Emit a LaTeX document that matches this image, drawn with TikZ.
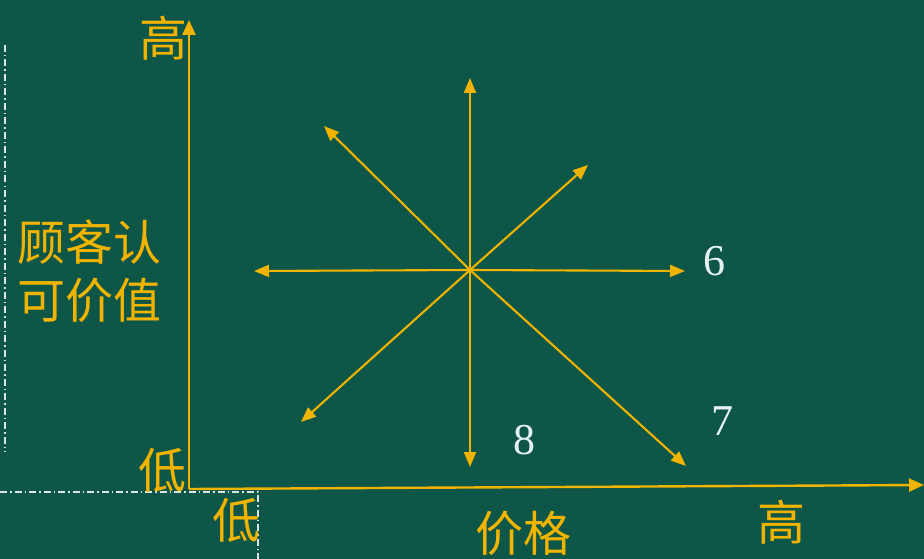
\documentclass[tikz,border=0pt]{standalone}
\usepackage{fontspec}
\newfontfamily\cjk{Noto Sans CJK SC}
\setmainfont{Liberation Serif}
\usetikzlibrary{arrows.meta}
\definecolor{bg}{HTML}{0E5648}
\definecolor{gold}{HTML}{F0B400}
\definecolor{numc}{HTML}{E4F2F2}
\tikzset{
  ax/.style={draw=gold,line width=2.4pt,-{Triangle[length=15pt,width=13pt]}},
  arr/.style={draw=gold,line width=2.1pt,-{Triangle[length=15pt,width=12pt]}},
  guide/.style={draw=white!85!bg,line width=1.5pt,dash pattern=on 7pt off 3pt on 1.5pt off 3pt},
  zh/.style={text=gold,font=\cjk\fontsize{48}{58}\selectfont,inner sep=0pt},
  num/.style={text=numc,font=\fontsize{44}{50}\selectfont,inner sep=0pt}
}
\begin{document}
\begin{tikzpicture}[x=1pt,y=-1pt]
\fill[bg] (0,0) rectangle (924,559);
\useasboundingbox (0,0) rectangle (924,559);
% guides
\coordinate (g1) at (5,45);
\coordinate (g2) at (5,452);
\coordinate (g3) at (0,492);
\coordinate (g4) at (258,492);
\coordinate (g5) at (258,559);
\draw[guide] (g1) -- (g2);
\draw[guide] (g3) -- (g4) -- (g5);
% axes
\coordinate (o) at (189,489);
\coordinate (ytop) at (189,20);
\coordinate (xend) at (924,485);
\draw[ax] (o) -- (ytop);
\draw[ax] (o) -- (xend);
% star
\coordinate (c) at (470,270);
\coordinate (eu) at (470,78);
\coordinate (ed) at (470,467);
\coordinate (el) at (254,271);
\coordinate (er) at (685,271);
\coordinate (eul) at (324,126);
\coordinate (edr) at (686,466);
\coordinate (eur) at (588,165);
\coordinate (edl) at (301,422);
\foreach \e in {eu,ed,el,er,eul,edr,eur,edl} \draw[arr] (c) -- (\e);
% labels
\node[zh] (hy) at (163,38) {高};
\node[zh] (ly) at (162,470) {低};
\node[zh] (lx) at (236,520) {低};
\node[zh] (px) at (523,533) {价格};
\node[zh] (hx) at (781,522) {高};
\node[zh,align=center] (gk) at (89,271) {顾客认\\可价值};
\node[num] (n6) at (714,261) {6};
\node[num] (n7) at (722,421) {7};
\node[num] (n8) at (524,440) {8};
\end{tikzpicture}
\end{document}
